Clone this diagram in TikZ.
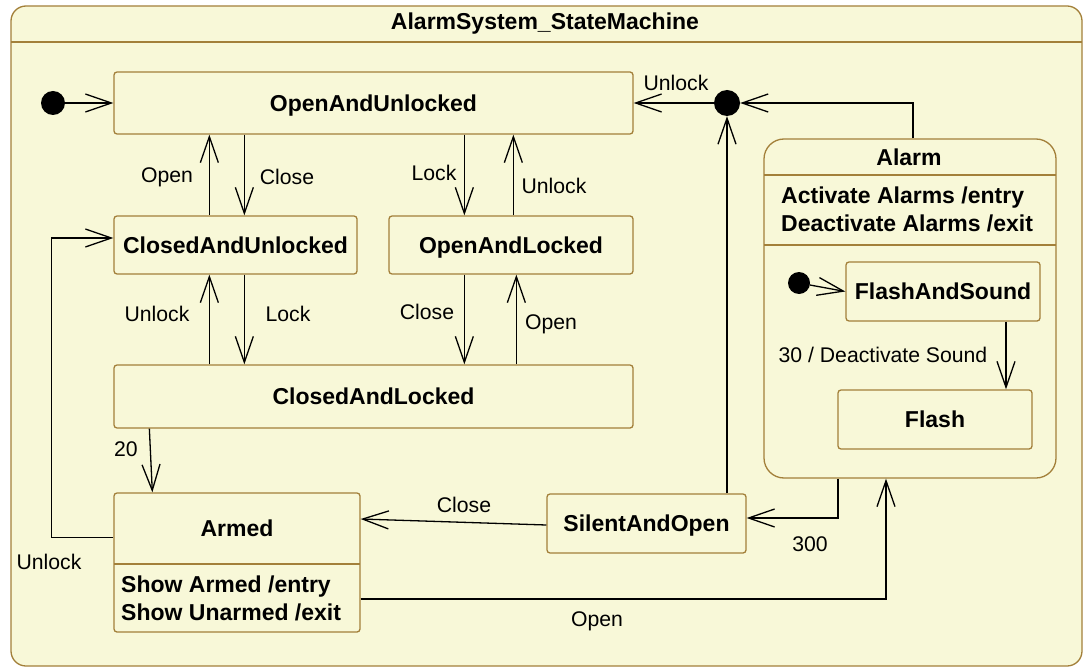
\documentclass[tikz,border=0pt]{standalone}
\usepackage{fontspec}
\setmainfont{Liberation Sans}
\usetikzlibrary{arrows.meta,calc}
\definecolor{bg}{RGB}{248,248,216}
\definecolor{brd}{RGB}{163,128,58}
\begin{document}
\begin{tikzpicture}[x=1pt,y=-1pt,
  state/.style={draw=brd, fill=bg, line width=1.3pt, rounded corners=3pt, inner sep=0pt, text height=16.5pt, text depth=0pt, font=\bfseries\fontsize{23}{27}\selectfont},
  btxt/.style={font=\bfseries\fontsize{23}{28}\selectfont, inner sep=0pt, align=left},
  lbl/.style={font=\fontsize{21.2}{24}\selectfont, inner sep=0pt},
  tr/.style={line width=1.3pt, -{Straight Barb[length=26pt,width=18pt,line width=1.3pt]}},
  dot/.style={circle, fill=black, inner sep=0pt, minimum size=#1},
  sep/.style={draw=brd, line width=1.3pt}
]
\useasboundingbox (0,0) rectangle (1086,668);
\fill[white] (0,0) rectangle (1086,668);
% frame
\draw[brd, fill=bg, line width=1.3pt, rounded corners=15pt] (11,6) rectangle (1082,666);
\draw[sep] (11,42) -- (1082,42);
\node[btxt] (title) at (545,24) {AlarmSystem\_StateMachine};

% states
\node[state, minimum width=519pt, minimum height=62pt] (ou) at (373.5,103) {OpenAndUnlocked};
\node[state, minimum width=243pt, minimum height=58pt] (cu) at (235.5,245) {ClosedAndUnlocked};
\node[state, minimum width=244pt, minimum height=58pt] (ol) at (511,245) {OpenAndLocked};
\node[state, minimum width=519pt, minimum height=63pt] (cl) at (373.5,396.5) {ClosedAndLocked};
\node[state, minimum width=199pt, minimum height=59pt] (so) at (646.5,523.5) {SilentAndOpen};

% Armed
\node[state, minimum width=246pt, minimum height=139pt] (armed) at (237,562.5) {};
\node[btxt] (armedT) at (237,528) {Armed};
\draw[sep] (114,564) -- (360,564);
\node[btxt, anchor=west] (armedA) at (121,598) {Show Armed /entry\\Show Unarmed /exit};

% Alarm
\node[state, rounded corners=20pt, minimum width=292pt, minimum height=339pt] (alarm) at (910,308.5) {};
\node[btxt] (alarmT) at (909,157) {Alarm};
\draw[sep] (764,175) -- (1056,175);
\draw[sep] (764,245) -- (1056,245);
\node[btxt, anchor=west] (alarmA) at (781,209.5) {Activate Alarms /entry\\Deactivate Alarms /exit};
\node[state, minimum width=194pt, minimum height=59pt] (fs) at (943,291.5) {FlashAndSound};
\node[state, minimum width=194pt, minimum height=59pt] (fl) at (935,419.5) {Flash};

% pseudo states
\node[dot=24pt] (init) at (53,103) {};
\node[dot=22pt] (init2) at (799,283) {};
\node[dot=26pt] (junc) at (727,103) {};

% transitions
\draw[tr] (init) -- (ou.west);
\draw[tr] ([xshift=96pt]cu.north west) -- ([xshift=96pt]ou.south west);
\draw[tr] ([xshift=131pt]ou.south west) -- ([xshift=131pt]cu.north west);
\draw[tr] ([xshift=351pt]ou.south west) -- ([xshift=76pt]ol.north west);
\draw[tr] ([xshift=125pt]ol.north west) -- ([xshift=400pt]ou.south west);
\draw[tr] ([xshift=96pt]cl.north west) -- ([xshift=96pt]cu.south west);
\draw[tr] ([xshift=131pt]cu.south west) -- ([xshift=131pt]cl.north west);
\draw[tr] ([xshift=76pt]ol.south west) -- ([xshift=351pt]cl.north west);
\draw[tr] ([xshift=403pt]cl.north west) -- ([xshift=128pt]ol.south west);
\draw[tr] ([xshift=36pt]cl.south west) -- ([xshift=39pt]armed.north west);
\draw[tr] ([yshift=-45pt]armed.north west) -- ++(-62,0) |- ([yshift=7pt]cu.west);
\draw[tr] ([yshift=-1.5pt]so.west) -- ([yshift=43.5pt]armed.east);
\draw[tr] ([yshift=-36.5pt]armed.east) -| ([xshift=-24pt]alarm.south);
\draw[tr] ([xshift=-72pt]alarm.south) |- ([yshift=5.5pt]so.east);
\draw[tr] ([xshift=80.5pt]so.north) -- (junc.south);
\draw[tr] ([xshift=3pt]alarm.north) |- (junc.east);
\draw[tr] (junc.west) -- (ou.east);
\draw[tr] ([xshift=63pt]fs.south) -- ([xshift=71pt]fl.north);
\draw[tr] (init2) -- (fs.west);

% labels
\node[lbl] (l1) at (167,177) {Open};
\node[lbl] (l2) at (287,177) {Close};
\node[lbl] (l3) at (434,173) {Lock};
\node[lbl] (l4) at (554,186) {Unlock};
\node[lbl] (l5) at (157,314) {Unlock};
\node[lbl] (l6) at (288,314) {Lock};
\node[lbl] (l7) at (427,312) {Close};
\node[lbl] (l8) at (551,324) {Open};
\node[lbl] (l9) at (126,449) {20};
\node[lbl] (l10) at (49,562) {Unlock};
\node[lbl] (l11) at (464,505) {Close};
\node[lbl] (l12) at (597,621) {Open};
\node[lbl] (l13) at (810,544) {300};
\node[lbl] (l14) at (676,83) {Unlock};
\node[lbl] (l15) at (883,355) {30 / Deactivate Sound};
\end{tikzpicture}
\end{document}
